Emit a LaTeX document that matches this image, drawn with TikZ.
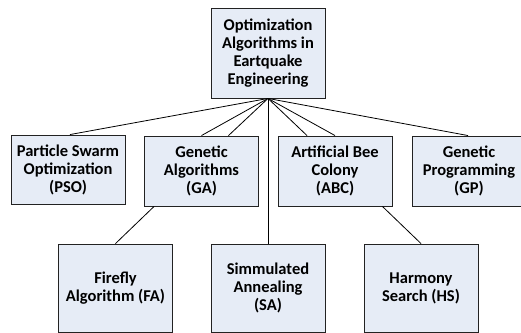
\documentclass[tikz,border=0pt]{standalone}
\usepackage{fontspec}
\setmainfont{Carlito}
\usetikzlibrary{calc,shadows}
\definecolor{boxfill}{HTML}{E6ECF6}
\definecolor{boxline}{HTML}{222222}
\begin{document}
\begin{tikzpicture}[x=1pt,y=-1pt,
  box/.style={draw=boxline, line width=0.9pt, fill=boxfill, align=center,
    minimum width=114pt, inner sep=0pt,
    font=\fontsize{16.5}{18}\selectfont\bfseries,
    drop shadow={shadow xshift=0.8pt, shadow yshift=-0.8pt, opacity=0.35, fill=black}},
  conn/.style={draw=black, line width=0.8pt}]
\useasboundingbox (0,0) rectangle (521,332);
\clip (0,0) rectangle (521,332);
\node[box, minimum height=90pt] (root) at (268,53) {Optimization\\Algorithms in\\Eartquake\\Engineering};
\node[box, minimum height=69pt] (pso) at (68,169.5) {Particle Swarm\\Optimization\\(PSO)};
\node[box, minimum height=70pt] (ga) at (201.5,171) {Genetic\\Algorithms\\(GA)};
\node[box, minimum height=70pt] (abc) at (335,171) {Artificial Bee\\Colony\\(ABC)};
\node[box, minimum height=70pt] (gp) at (469,171) {Genetic\\Programming\\(GP)};
\node[box, minimum height=88pt] (fa) at (115.5,288) {Firefly\\Algorithm (FA)};
\node[box, minimum height=88pt] (sa) at (268,288) {Simmulated\\Annealing\\(SA)};
\node[box, minimum height=88pt] (hs) at (421,288) {Harmony\\Search (HS)};
\coordinate (hub) at (root.south);
\draw[conn] (hub) -- ($(pso.north)+(2,0)$);
\draw[conn] (hub) -- (ga.north);
\draw[conn] (hub) -- ($(ga.north)+(27,0)$);
\draw[conn] (hub) -- (sa.north);
\draw[conn] (hub) -- ($(abc.north)+(-28,0)$);
\draw[conn] (hub) -- (abc.north);
\draw[conn] (hub) -- ($(gp.north)+(-1,0)$);
\draw[conn] ($(ga.south west)+(10,0)$) -- (fa.north);
\draw[conn] ($(abc.south east)+(-10,0)$) -- (hs.north);
\end{tikzpicture}
\end{document}
